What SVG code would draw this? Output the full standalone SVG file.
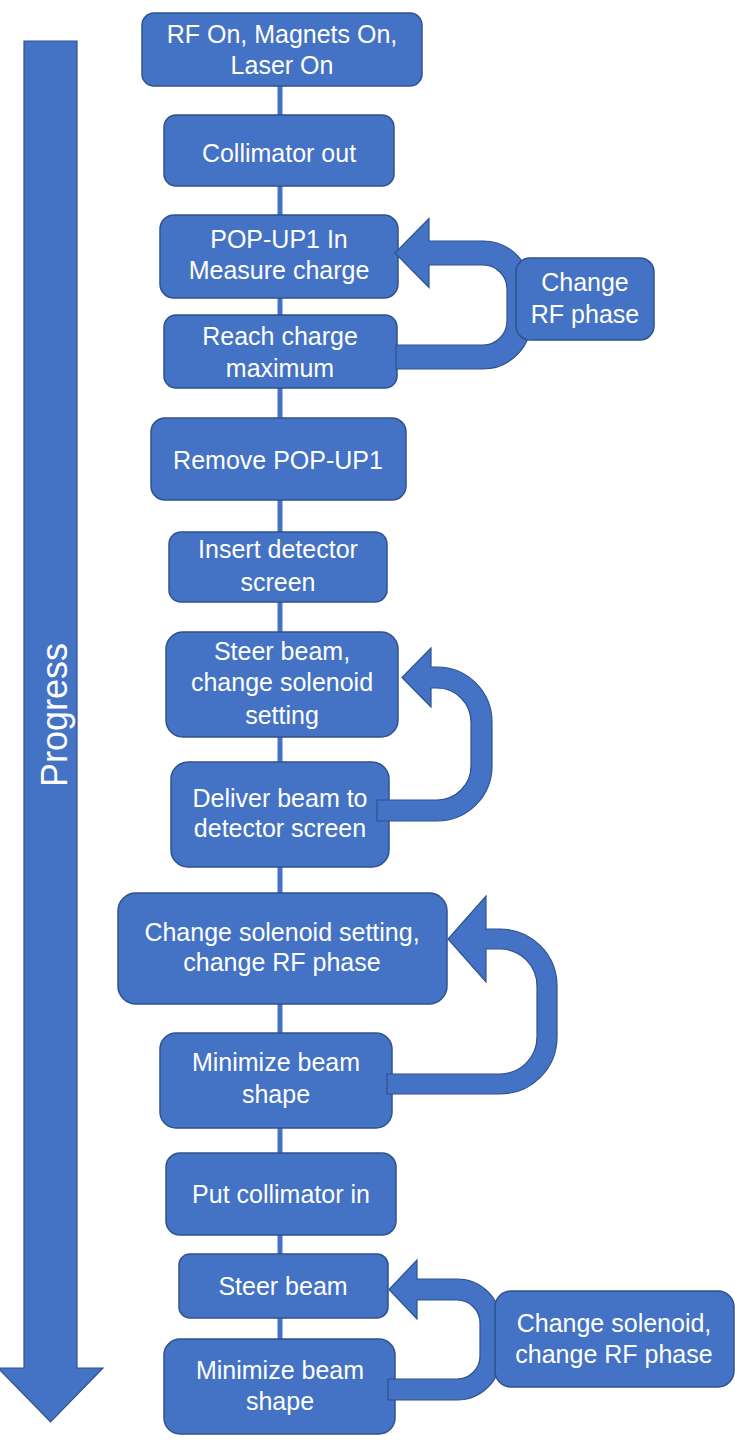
<svg xmlns="http://www.w3.org/2000/svg" width="735" height="1440" viewBox="0 0 735 1440">
<style>
.box{fill:#4472C4;stroke:#2F528F;stroke-width:1.5}
.arr{fill:#4472C4;stroke:#2F528F;stroke-width:1.2;stroke-linejoin:miter}
.ln{stroke:#4472C4;stroke-width:5;fill:none}
text{font-family:"Liberation Sans",Arial,sans-serif;font-size:25px;fill:#FFFFFF;text-anchor:middle}
</style>
<rect width="735" height="1440" fill="#FFFFFF"/>
<g id="progress">
<polygon class="arr" points="24,41 77,41 77,1368 103,1368 50.5,1422 -2,1368 24,1368"/>
<text transform="translate(67,715) rotate(-90)" style="font-size:36px">Progress</text>
</g>
<g id="connectors">
<line class="ln" x1="280" y1="86" x2="280" y2="115"/>
<line class="ln" x1="280" y1="186" x2="280" y2="215"/>
<line class="ln" x1="280" y1="298" x2="280" y2="315"/>
<line class="ln" x1="280" y1="388" x2="280" y2="418"/>
<line class="ln" x1="280" y1="500" x2="280" y2="532"/>
<line class="ln" x1="280" y1="602" x2="280" y2="632"/>
<line class="ln" x1="280" y1="737" x2="280" y2="762"/>
<line class="ln" x1="280" y1="867" x2="280" y2="893"/>
<line class="ln" x1="280" y1="1004" x2="280" y2="1033"/>
<line class="ln" x1="280" y1="1128" x2="280" y2="1153"/>
<line class="ln" x1="280" y1="1235" x2="280" y2="1254"/>
<line class="ln" x1="280" y1="1318" x2="280" y2="1339"/>
</g>
<g id="n1"><rect class="box" x="142" y="13" width="280" height="73" rx="12"/><text x="282" y="43">RF On, Magnets On,</text><text x="282" y="74">Laser On</text></g>
<g id="n2"><rect class="box" x="164" y="115" width="230" height="71" rx="12"/><text x="279" y="162">Collimator out</text></g>
<g id="n3"><rect class="box" x="160" y="215" width="238" height="83" rx="14"/><text x="279" y="248">POP-UP1 In</text><text x="279" y="279">Measure charge</text></g>
<g id="n4"><rect class="box" x="164" y="315" width="233" height="73" rx="12"/><text x="280" y="345">Reach charge</text><text x="280" y="377">maximum</text></g>
<g id="n6"><rect class="box" x="151" y="418" width="255" height="82" rx="14"/><text x="278" y="469">Remove POP-UP1</text></g>
<g id="n7"><rect class="box" x="169" y="532" width="218" height="70" rx="12"/><text x="278" y="558">Insert detector</text><text x="278" y="591">screen</text></g>
<g id="n8"><rect class="box" x="166" y="632" width="232" height="105" rx="17"/><text x="282" y="660">Steer beam,</text><text x="282" y="691">change solenoid</text><text x="282" y="724">setting</text></g>
<g id="n9"><rect class="box" x="171" y="762" width="218" height="105" rx="17"/><text x="280" y="807">Deliver beam to</text><text x="280" y="837">detector screen</text></g>
<g id="n10"><rect class="box" x="118" y="893" width="329" height="111" rx="18"/><text x="282" y="941">Change solenoid setting,</text><text x="282" y="971">change RF phase</text></g>
<g id="n11"><rect class="box" x="160" y="1033" width="232" height="95" rx="16"/><text x="276" y="1071">Minimize beam</text><text x="276" y="1103">shape</text></g>
<g id="n12"><rect class="box" x="166" y="1153" width="230" height="82" rx="14"/><text x="281" y="1203">Put collimator in</text></g>
<g id="n13"><rect class="box" x="179" y="1254" width="209" height="64" rx="11"/><text x="283" y="1295">Steer beam</text></g>
<g id="n14"><rect class="box" x="164" y="1339" width="231" height="95" rx="16"/><text x="280" y="1379">Minimize beam</text><text x="280" y="1410">shape</text></g>
<g id="loops">
<path class="arr" d="M396,369 H483 A48,48 0 0 0 531,321 V289 A48,48 0 0 0 483,241 H429 V218.5 L395,253 L429,287.5 V265 H483 A24,24 0 0 1 507,289 V321 A24,24 0 0 1 483,345 H396 Z"/>
<path class="arr" d="M377,821 H437 A55,55 0 0 0 492,766 V722 A55,55 0 0 0 437,667 H431 V648 L402,677.5 L431,707 V688 H437 A34,34 0 0 1 471,722 V766 A34,34 0 0 1 437,800 H377 Z"/>
<path class="arr" d="M387,1094 H500 A57,57 0 0 0 557,1037 V986 A57,57 0 0 0 500,929 H486 V896 L448,939 L486,982 V949 H500 A37,37 0 0 1 537,986 V1037 A37,37 0 0 1 500,1074 H387 Z"/>
<path class="arr" d="M388,1400 H457 A44,44 0 0 0 501,1356 V1323 A44,44 0 0 0 457,1279 H417 V1260 L389,1289.5 L417,1319 V1300 H457 A23,23 0 0 1 480,1323 V1356 A23,23 0 0 1 457,1379 H388 Z"/>
</g>
<g id="n5"><rect class="box" x="516" y="258" width="138" height="82" rx="14"/><text x="585" y="291">Change</text><text x="585" y="323">RF phase</text></g>
<g id="n15"><rect class="box" x="495" y="1291" width="239" height="96" rx="16"/><text x="614" y="1332">Change solenoid,</text><text x="614" y="1363">change RF phase</text></g>
</svg>
